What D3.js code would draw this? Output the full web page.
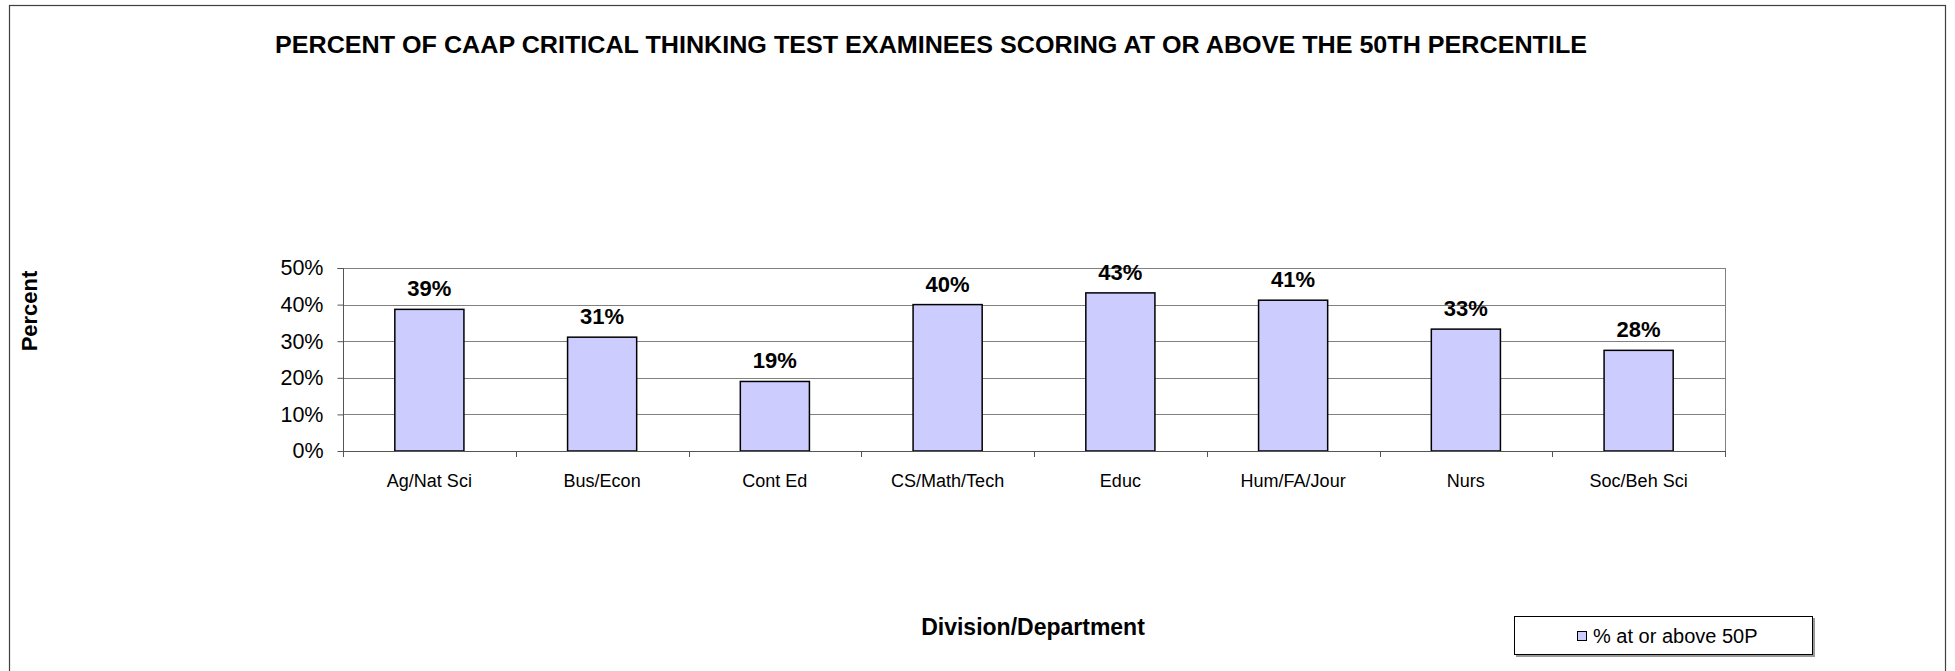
<!DOCTYPE html>
<html>
<head>
<meta charset="utf-8">
<script src="https://cdn.jsdelivr.net/npm/d3@7"></script>
<style>
  html, body { margin: 0; padding: 0; background: #fff; }
  svg { display: block; font-family: "Liberation Sans", Arial, sans-serif; }
</style>
</head>
<body>
<svg id="chart" width="1955" height="671"></svg>
<script>
const categories = ["Ag/Nat Sci", "Bus/Econ", "Cont Ed", "CS/Math/Tech", "Educ", "Hum/FA/Jour", "Nurs", "Soc/Beh Sci"];
const values = [38.7, 31.1, 19.0, 40.0, 43.2, 41.2, 33.3, 27.5];
const valueLabels = ["39%", "31%", "19%", "40%", "43%", "41%", "33%", "28%"];
const yTicks = [0, 10, 20, 30, 40, 50];
const titleText = "PERCENT OF CAAP CRITICAL THINKING TEST EXAMINEES SCORING AT OR ABOVE THE 50TH PERCENTILE";
const xTitle = "Division/Department";
const yTitle = "Percent";
const seriesName = "% at or above 50P";

const svg = d3.select("#chart");
const plot = { left: 343, right: 1725, top: 268, bottom: 451 };

// outer frame
svg.append("rect").attr("x", 9.5).attr("y", 5.5).attr("width", 1936).attr("height", 720)
  .attr("fill", "#fff").attr("stroke", "#404040").attr("stroke-width", 1.2);

const x = d3.scaleBand().domain(categories).range([plot.left, plot.right]).paddingInner(0.6).paddingOuter(0.3);
const xb = d3.scaleBand().domain(categories).range([plot.left, plot.right]).padding(0);
const y = d3.scaleLinear().domain([0, 50]).range([plot.bottom, plot.top]);

// gridlines
svg.append("g").selectAll("line").data(yTicks.filter(t => t > 0)).join("line")
  .attr("x1", plot.left).attr("x2", plot.right)
  .attr("y1", d => Math.round(y(d)) + 0.5).attr("y2", d => Math.round(y(d)) + 0.5)
  .attr("stroke", "#808080").attr("stroke-width", 1);

// right border of plot
svg.append("line").attr("x1", plot.right + 0.5).attr("x2", plot.right + 0.5)
  .attr("y1", plot.top).attr("y2", plot.bottom)
  .attr("stroke", "#808080");

// bars
svg.append("g").selectAll("rect").data(values).join("rect")
  .attr("x", (d, i) => x(categories[i]))
  .attr("width", x.bandwidth())
  .attr("y", d => y(d))
  .attr("height", d => y(0) - y(d))
  .attr("fill", "#CCCCFF").attr("stroke", "#000").attr("stroke-width", 1.5);

// value labels
svg.append("g").selectAll("text").data(values).join("text")
  .attr("x", (d, i) => x(categories[i]) + x.bandwidth() / 2)
  .attr("y", d => y(d) - 13)
  .attr("text-anchor", "middle")
  .attr("font-size", 22).attr("font-weight", "bold").attr("fill", "#000")
  .text((d, i) => valueLabels[i]);

// y axis
const yAxis = d3.axisLeft(y).tickValues(yTicks).tickSize(6).tickPadding(14).tickFormat(d => d + "%");
const gy = svg.append("g").attr("transform", `translate(${plot.left + 0.5},0)`).call(yAxis);
gy.select(".domain").attr("stroke", "#555").attr("d", `M-6,${plot.top + 0.5}H0V${plot.bottom + 6}`);
gy.selectAll(".tick line").attr("stroke", "#555");
gy.selectAll(".tick text").attr("font-size", 21.5).attr("fill", "#000")
  .attr("font-family", "\"Liberation Sans\", Arial, sans-serif");

// x axis baseline and ticks at category boundaries
const bounds = categories.map(c => xb(c)).concat([plot.right]);
svg.append("line").attr("x1", plot.left).attr("x2", plot.right)
  .attr("y1", plot.bottom + 0.5).attr("y2", plot.bottom + 0.5).attr("stroke", "#555");
svg.append("g").selectAll("line").data(bounds).join("line")
  .attr("x1", d => Math.round(d) + 0.5).attr("x2", d => Math.round(d) + 0.5)
  .attr("y1", plot.bottom).attr("y2", plot.bottom + 6).attr("stroke", "#555");

// category labels
svg.append("g").selectAll("text").data(categories).join("text")
  .attr("x", d => xb(d) + xb.bandwidth() / 2)
  .attr("y", 487)
  .attr("text-anchor", "middle").attr("font-size", 18).attr("fill", "#000")
  .text(d => d);

// title
svg.append("text").attr("x", 931).attr("y", 53).attr("text-anchor", "middle")
  .attr("font-size", 24).attr("font-weight", "bold")
  .attr("textLength", 1312).attr("lengthAdjust", "spacingAndGlyphs")
  .text(titleText);

// axis titles
svg.append("text").attr("x", 1033).attr("y", 635).attr("text-anchor", "middle")
  .attr("font-size", 23).attr("font-weight", "bold").text(xTitle);
svg.append("text").attr("transform", "translate(37,311) rotate(-90)").attr("text-anchor", "middle")
  .attr("font-size", 22).attr("font-weight", "bold").text(yTitle);

// legend
const lg = svg.append("g");
lg.append("rect").attr("x", 1516).attr("y", 618).attr("width", 299).attr("height", 39).attr("fill", "#999");
lg.append("rect").attr("x", 1514.5).attr("y", 616.5).attr("width", 298).attr("height", 38)
  .attr("fill", "#fff").attr("stroke", "#000").attr("stroke-width", 1);
lg.append("rect").attr("x", 1577.5).attr("y", 631.5).attr("width", 9).attr("height", 9)
  .attr("fill", "#CCCCFF").attr("stroke", "#000").attr("stroke-width", 1);
lg.append("text").attr("x", 1593).attr("y", 643).attr("font-size", 20).text(seriesName);
</script>
</body>
</html>
